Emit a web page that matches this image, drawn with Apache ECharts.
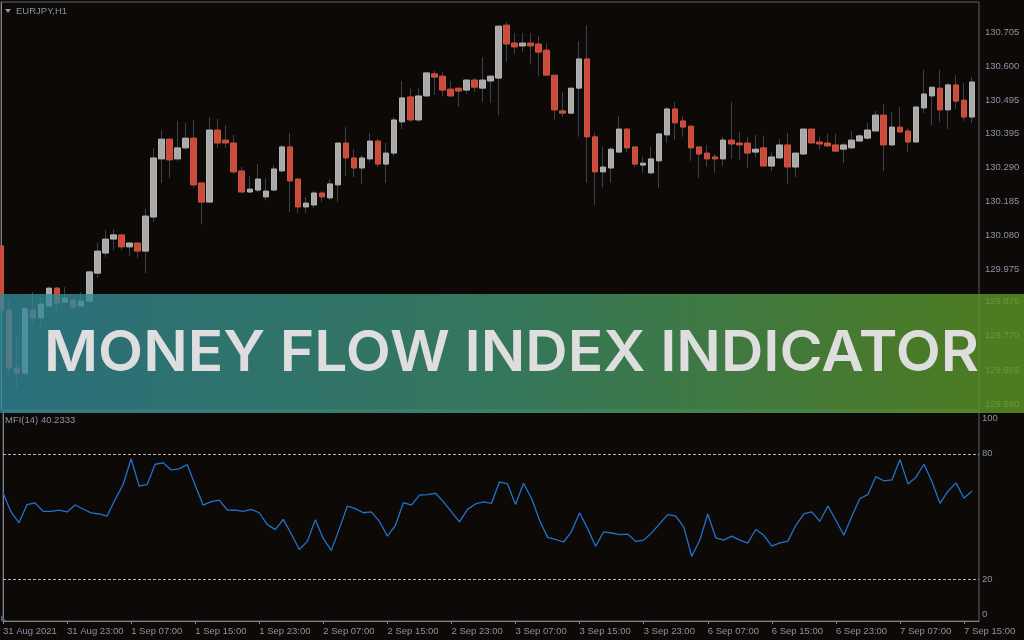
<!DOCTYPE html>
<html><head><meta charset="utf-8">
<script src="https://cdn.jsdelivr.net/npm/echarts@6/dist/echarts.min.js"></script>
<style>html,body{margin:0;padding:0;background:#0c0907;}#c{width:1024px;height:640px;}</style>
</head><body><div id="c"></div>
<script>
// x tick labels (one every 8 hourly bars, starting at bar 0)
const xTickLabels = ['31 Aug 2021','31 Aug 23:00','1 Sep 07:00','1 Sep 15:00','1 Sep 23:00','2 Sep 07:00','2 Sep 15:00','2 Sep 23:00','3 Sep 07:00','3 Sep 15:00','3 Sep 23:00','6 Sep 07:00','6 Sep 15:00','6 Sep 23:00','7 Sep 07:00','7 Sep 15:00'];
const priceTickLabels = ['129.560','129.665','129.770','129.875','129.975','130.080','130.185','130.290','130.395','130.495','130.600','130.705'];
const mfiTickLabels = ['0','20','80','100'];
const mfiLevels = [80, 20];

const opens = [130.047,129.849,129.671,129.655,129.849,129.825,129.862,129.917,129.874,129.880,129.862,129.877,129.963,130.025,130.068,130.081,130.044,130.056,130.031,130.136,
130.315,130.376,130.315,130.349,130.379,130.241,130.182,130.404,130.373,130.364,130.278,130.213,130.219,130.198,130.219,130.278,130.352,130.253,130.167,130.173,
130.210,130.195,130.235,130.364,130.318,130.287,130.315,130.370,130.299,130.333,130.429,130.506,130.435,130.509,130.577,130.570,130.530,130.533,130.527,130.558,
130.533,130.555,130.564,130.727,130.672,130.663,130.672,130.669,130.650,130.573,130.463,130.456,130.533,130.623,130.383,130.275,130.287,130.336,130.407,130.352,
130.296,130.272,130.309,130.389,130.469,130.432,130.416,130.352,130.333,130.321,130.315,130.373,130.364,130.364,130.336,130.349,130.293,130.318,130.358,130.290,
130.330,130.407,130.367,130.364,130.358,130.345,130.349,130.370,130.379,130.401,130.450,130.358,130.413,130.401,130.367,130.472,130.509,130.533,130.466,130.543,
130.496,130.444];
const closes = [129.849,129.671,129.655,129.853,129.825,129.868,129.917,129.871,129.886,129.859,129.877,129.967,130.031,130.068,130.081,130.044,130.056,130.031,130.139,130.318,
130.376,130.312,130.349,130.379,130.235,130.182,130.404,130.364,130.364,130.275,130.213,130.222,130.253,130.216,130.284,130.352,130.247,130.167,130.179,130.210,
130.198,130.238,130.364,130.318,130.287,130.318,130.370,130.299,130.333,130.435,130.503,130.435,130.509,130.580,130.567,130.527,130.509,130.524,130.558,130.536,
130.558,130.570,130.724,130.669,130.660,130.672,130.663,130.644,130.573,130.466,130.456,130.533,130.623,130.383,130.275,130.290,130.345,130.407,130.349,130.299,
130.302,130.315,130.392,130.469,130.426,130.413,130.349,130.330,130.315,130.315,130.373,130.361,130.358,130.333,130.345,130.293,130.321,130.358,130.290,130.333,
130.407,130.364,130.361,130.355,130.339,130.358,130.373,130.386,130.404,130.450,130.358,130.413,130.398,130.367,130.475,130.515,130.536,130.466,130.543,130.493,
130.444,130.552];
const lows = [129.843,129.640,129.609,129.640,129.809,129.797,129.862,129.843,129.871,129.853,129.859,129.871,129.948,130.013,130.034,130.034,130.016,130.010,129.963,130.121,
130.241,130.256,130.309,130.342,130.225,130.114,130.182,130.349,130.349,130.268,130.210,130.210,130.213,130.188,130.219,130.275,130.151,130.148,130.148,130.164,
130.182,130.188,130.182,130.262,130.259,130.238,130.305,130.290,130.241,130.324,130.407,130.429,130.429,130.506,130.512,130.509,130.506,130.475,130.515,130.521,
130.490,130.487,130.450,130.614,130.638,130.644,130.607,130.570,130.570,130.435,130.444,130.453,130.383,130.241,130.173,130.228,130.241,130.336,130.336,130.290,
130.272,130.268,130.225,130.364,130.373,130.383,130.309,130.256,130.290,130.272,130.293,130.315,130.312,130.287,130.321,130.293,130.278,130.315,130.238,130.259,
130.330,130.364,130.345,130.352,130.336,130.302,130.345,130.370,130.373,130.401,130.278,130.355,130.398,130.336,130.367,130.456,130.419,130.429,130.407,130.469,
130.432,130.426];
const highs = [130.047,129.883,129.769,129.862,129.905,129.886,129.920,129.920,129.920,129.883,129.905,129.970,130.056,130.096,130.099,130.081,130.056,130.056,130.161,130.349,
130.404,130.376,130.432,130.426,130.435,130.241,130.444,130.438,130.419,130.389,130.290,130.262,130.299,130.256,130.296,130.358,130.395,130.253,130.198,130.216,
130.216,130.253,130.364,130.413,130.345,130.327,130.395,130.376,130.364,130.444,130.555,130.533,130.533,130.580,130.586,130.583,130.555,130.533,130.561,130.564,
130.629,130.570,130.724,130.737,130.703,130.703,130.703,130.694,130.672,130.573,130.521,130.533,130.678,130.727,130.395,130.352,130.352,130.447,130.410,130.352,
130.321,130.352,130.392,130.475,130.490,130.447,130.416,130.352,130.358,130.330,130.383,130.490,130.398,130.383,130.389,130.386,130.336,130.376,130.395,130.333,
130.407,130.407,130.383,130.392,130.392,130.364,130.401,130.392,130.426,130.463,130.484,130.459,130.475,130.410,130.475,130.589,130.536,130.589,130.549,130.573,
130.549,130.567];
const mfi = [61.4,52.2,47.0,55.7,56.5,52.5,52.5,53.1,52.2,55.5,53.6,51.7,51.2,50.2,58.1,65.3,77.6,64.6,65.3,75.0,
75.7,72.3,72.8,74.9,65.0,55.4,57.1,57.8,53.1,53.0,52.5,53.4,51.8,46.1,43.7,48.6,41.6,34.2,38.1,48.5,
39.4,33.8,44.2,55.0,53.8,51.8,52.2,47.7,40.6,45.8,56.6,55.4,60.2,60.5,61.1,57.0,52.2,47.4,53.4,56.0,
57.0,56.3,66.6,65.6,55.7,65.9,58.6,48.2,40.0,39.0,37.8,42.9,51.8,44.2,35.8,42.6,42.1,41.3,41.6,38.1,
38.7,42.2,46.6,50.9,50.2,45.0,31.0,38.6,51.2,39.8,38.7,40.6,38.7,37.3,43.8,41.0,35.8,37.4,38.2,45.8,
51.2,52.2,47.7,55.0,48.2,41.0,50.2,58.6,60.5,69.1,67.0,67.5,77.3,65.6,68.8,75.0,66.6,56.3,62.1,66.1,
58.7,62.2];

const wickData = opens.map((o, i) => [o, closes[i], lows[i], highs[i]]);
const bodyData = opens.map((o, i) => [o, closes[i], Math.min(o, closes[i]), Math.max(o, closes[i])]);
const mfiData = mfi.map((v, i) => [i, v]);
const xTickValues = xTickLabels.map((_, i) => i * 8);
const priceTickValues = priceTickLabels.map(Number);
const mfiTickValues = mfiTickLabels.map(Number);

const AX = '#80838f', TXT = '#8c93a3', FONT = 'Liberation Sans';
const X_MIN = 0, X_MAX = 121.87;

const bannerText = 'MONEY FLOW INDEX INDICATOR';
const bannerFont = '600 57px Inter';
const cv = document.createElement('canvas').getContext('2d');
cv.font = bannerFont;
const bw = cv.measureText(bannerText).width;
const sx = 935 / bw;

const chart = echarts.init(document.getElementById('c'), null, {renderer: 'canvas'});
chart.setOption({
  animation: false,
  backgroundColor: '#0c0907',
  grid: [
    {left: 1, width: 978, top: 2, height: 408, show: true, borderColor: '#5f626d', borderWidth: 1, backgroundColor: 'transparent'},
    {left: 1, width: 978, top: 412, height: 209, show: true, borderColor: '#5f626d', borderWidth: 1, backgroundColor: 'transparent'}
  ],
  xAxis: [
    {type: 'value', gridIndex: 0, min: X_MIN, max: X_MAX, show: false, splitLine: {show: false}},
    {type: 'value', gridIndex: 1, min: X_MIN, max: X_MAX, splitLine: {show: false},
     axisLine: {show: true, lineStyle: {color: AX, width: 1}},
     axisTick: {show: true, length: 3, customValues: xTickValues, lineStyle: {color: AX}},
     axisLabel: {customValues: xTickValues, align: 'left', margin: 5, color: TXT, fontSize: 9.5, fontFamily: FONT,
       formatter: v => xTickLabels[Math.round(v / 8)]}}
  ],
  yAxis: [
    {type: 'value', gridIndex: 0, position: 'right', min: 129.5415, max: 130.7984, splitLine: {show: false},
     axisLine: {show: true, lineStyle: {color: AX, width: 1}},
     axisTick: {show: false},
     axisLabel: {customValues: priceTickValues, margin: 6, color: TXT, fontSize: 9.5, fontFamily: FONT,
       formatter: v => priceTickLabels[priceTickValues.indexOf(v)] || v.toFixed(3)}},
    {type: 'value', gridIndex: 1, position: 'right', min: 0, max: 100, splitLine: {show: false},
     axisLine: {show: true, lineStyle: {color: AX, width: 1}},
     axisTick: {show: false},
     axisLabel: {customValues: mfiTickValues, margin: 3, color: TXT, fontSize: 9.5, fontFamily: FONT,
       formatter: v => v === 100 ? '{t|100}' : (v === 0 ? '{b|0}' : String(v)),
       rich: {t: {padding: [12, 0, 0, 0], color: TXT, fontSize: 9.5, fontFamily: FONT},
              b: {padding: [0, 0, 14, 0], color: TXT, fontSize: 9.5, fontFamily: FONT}}}}
  ],
  series: [
    {type: 'candlestick', xAxisIndex: 0, yAxisIndex: 0, data: wickData.map((d, i) => [i].concat(d)),
     encode: {x: 0, y: [1, 2, 3, 4]}, barWidth: 1, clip: true,
     itemStyle: {color: '#3b404d', color0: '#3b404d', borderColor: '#3b404d', borderColor0: '#3b404d', borderWidth: 1}},
    {type: 'candlestick', xAxisIndex: 0, yAxisIndex: 0, data: bodyData.map((d, i) => [i].concat(d)),
     encode: {x: 0, y: [1, 2, 3, 4]}, barWidth: 6, clip: true,
     itemStyle: {color: '#a9a9a9', color0: '#c94b3b', borderColor: '#b3b3b3', borderColor0: '#d25240', borderWidth: 1}},
    {type: 'line', xAxisIndex: 1, yAxisIndex: 1, data: mfiData, showSymbol: false, symbol: 'none',
     lineStyle: {color: '#2272cc', width: 1.3},
     markLine: {silent: true, symbol: ['none', 'none'], label: {show: false},
       lineStyle: {color: '#b4b4b4', type: [3, 2], width: 1},
       data: mfiLevels.map(v => ({yAxis: v}))}}
  ],
  graphic: [
    {type: 'polygon', shape: {points: [[5, 9], [11, 9], [8, 13]]}, style: {fill: TXT}, z: 50},
    {type: 'text', x: 16, y: 11, style: {text: 'EURJPY,H1', fill: TXT, font: '9.5px "Liberation Sans"', verticalAlign: 'middle'}, z: 50},
    {type: 'text', x: 5, y: 420, style: {text: 'MFI(14) 40.2333', fill: TXT, font: '9.5px "Liberation Sans"', verticalAlign: 'middle'}, z: 50},
    {type: 'polygon', shape: {points: [[1, 615], [1, 621], [6, 621]]}, style: {fill: '#5a5f78'}, z: 50},
    {type: 'rect', shape: {x: 0, y: 294, width: 1024, height: 119}, z: 100,
     style: {opacity: 0.8, fill: new echarts.graphic.LinearGradient(0, 0, 1, 0, [
       {offset: 0, color: '#32889a'}, {offset: 0.5, color: '#3f9270'}, {offset: 1, color: '#5f9822'}])}},
    {type: 'text', x: 44, y: 354, scaleX: sx, z: 101,
     style: {text: bannerText, font: bannerFont, fill: '#dedede', verticalAlign: 'middle', align: 'left'}}
  ]
});
</script>
</body></html>
